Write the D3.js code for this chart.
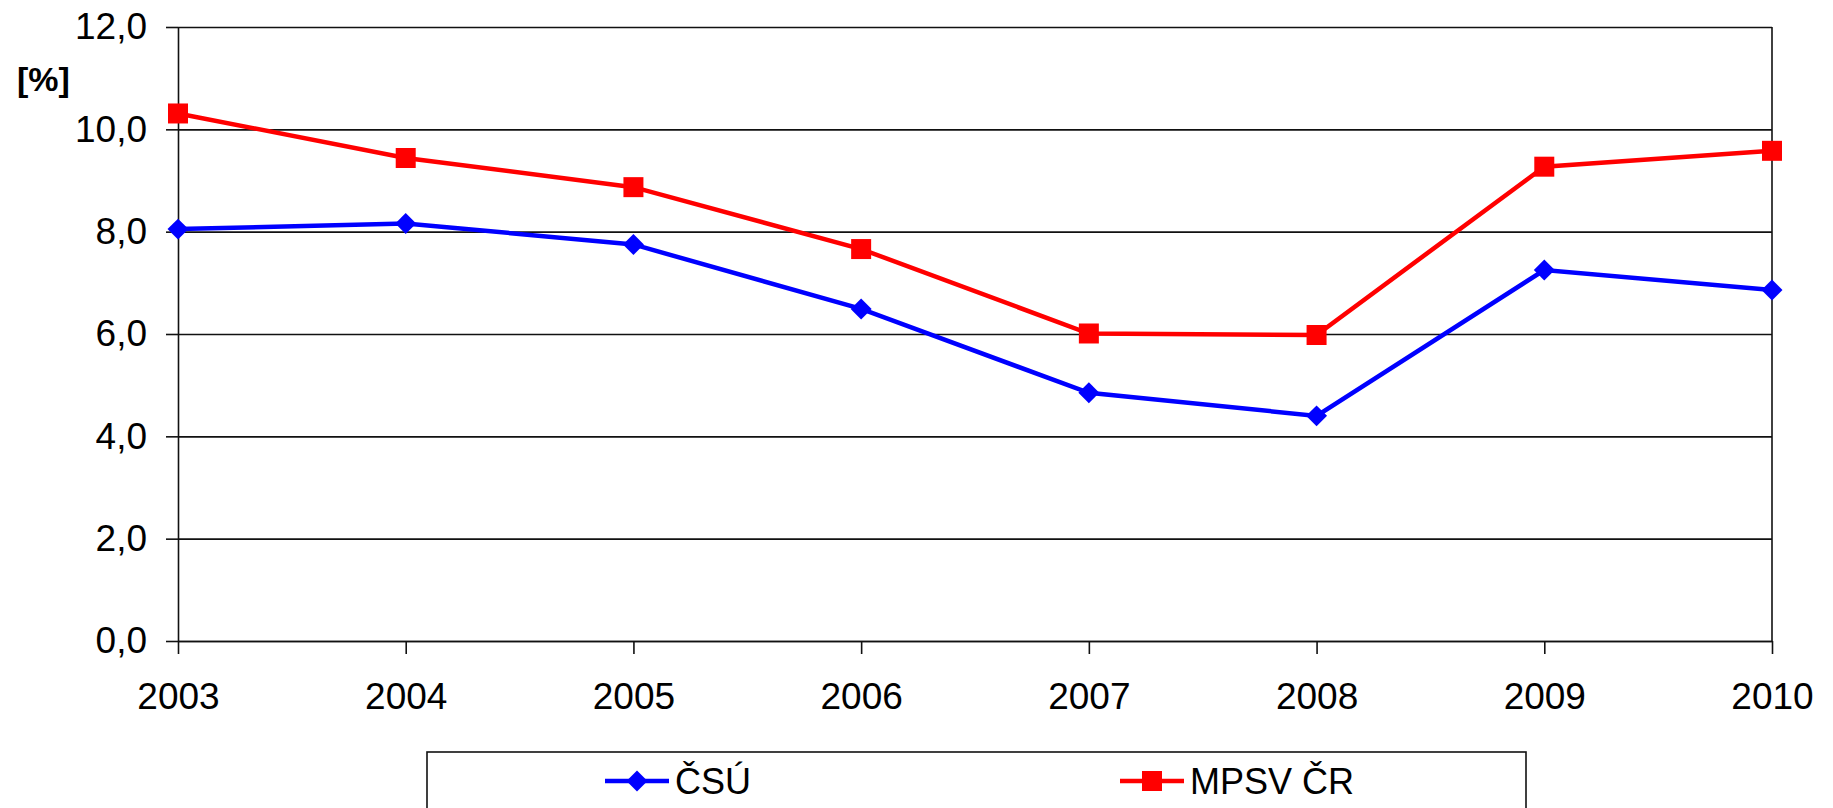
<!DOCTYPE html>
<html>
<head>
<meta charset="utf-8">
<script src="https://cdn.jsdelivr.net/npm/d3@7"></script>
<style>
  body { margin: 0; background: #fff; }
  svg { display: block; font-family: "Liberation Sans", Arial, sans-serif; }
</style>
</head>
<body>
<svg id="chart"></svg>
<script>
// data
var years = ["2003", "2004", "2005", "2006", "2007", "2008", "2009", "2010"];
var csu = [8.05, 8.16, 7.75, 6.49, 4.85, 4.40, 7.25, 6.86];
var mpsv = [10.31, 9.44, 8.87, 7.66, 6.01, 5.98, 9.27, 9.58];
var yTicks = [0, 2, 4, 6, 8, 10, 12];
var seriesNames = ["ČSÚ", "MPSV ČR"];

var W = 1833, H = 808;
var margin = {top: 27, right: 61, bottom: 167, left: 178},
    width = W - margin.left - margin.right,
    height = H - margin.top - margin.bottom;

var svg = d3.select("#chart")
    .attr("width", W)
    .attr("height", H);

var g = svg.append("g")
    .attr("transform", "translate(" + margin.left + "," + margin.top + ")");

var x = d3.scalePoint()
    .domain(years)
    .range([0, width])
    .padding(0);

var y = d3.scaleLinear()
    .domain([0, 12])
    .range([height, 0]);

var fmt = function(d) { return d3.format(".1f")(d).replace(".", ","); };

// gridlines
g.append("g")
    .attr("class", "grid")
    .call(d3.axisLeft(y).tickValues(yTicks).tickSize(-width).tickFormat(""))
    .call(function(s) {
      s.select(".domain").remove();
      s.selectAll("line").attr("stroke", "#111").attr("stroke-width", 1.6);
    });

// right border
g.append("line")
    .attr("x1", width).attr("x2", width)
    .attr("y1", 0).attr("y2", height)
    .attr("stroke", "#111").attr("stroke-width", 1.6);

// y axis
g.append("g")
    .call(d3.axisLeft(y).tickValues(yTicks).tickSize(12).tickSizeOuter(0).tickPadding(19).tickFormat(fmt))
    .call(function(s) {
      s.select(".domain").attr("stroke", "#111").attr("stroke-width", 1.6);
      s.selectAll(".tick line").attr("stroke", "#111").attr("stroke-width", 1.6);
      s.selectAll("text").attr("font-size", 37).attr("fill", "#000")
        .attr("font-family", "Liberation Sans, Arial, sans-serif");
    });

// x axis
g.append("g")
    .attr("transform", "translate(0," + height + ")")
    .call(d3.axisBottom(x).tickSize(13).tickSizeOuter(0).tickPadding(29))
    .call(function(s) {
      s.select(".domain").attr("stroke", "#111").attr("stroke-width", 1.6);
      s.selectAll(".tick line").attr("stroke", "#111").attr("stroke-width", 1.6);
      s.selectAll("text").attr("font-size", 37).attr("fill", "#000")
        .attr("font-family", "Liberation Sans, Arial, sans-serif");
    });

// unit label
svg.append("text")
    .attr("x", 17)
    .attr("y", 91)
    .attr("font-size", 34)
    .attr("font-weight", "bold")
    .text("[%]");

var line = d3.line()
    .x(function(d, i) { return x(years[i]); })
    .y(function(d) { return y(d); });

var diamond = d3.symbol().type(d3.symbolDiamond2).size(280);
var square = d3.symbol().type(d3.symbolSquare).size(400);

// ČSÚ series
g.append("path")
    .datum(csu)
    .attr("fill", "none")
    .attr("stroke", "#0000ff")
    .attr("stroke-width", 4.5)
    .attr("d", line);

g.selectAll(".csu")
    .data(csu)
    .enter().append("path")
    .attr("class", "csu")
    .attr("transform", function(d, i) { return "translate(" + x(years[i]) + "," + y(d) + ")"; })
    .attr("d", diamond)
    .attr("fill", "#0000ff");

// MPSV series
g.append("path")
    .datum(mpsv)
    .attr("fill", "none")
    .attr("stroke", "#ff0000")
    .attr("stroke-width", 4.5)
    .attr("d", line);

g.selectAll(".mpsv")
    .data(mpsv)
    .enter().append("path")
    .attr("class", "mpsv")
    .attr("transform", function(d, i) { return "translate(" + x(years[i]) + "," + y(d) + ")"; })
    .attr("d", square)
    .attr("fill", "#ff0000");

// legend
var legend = svg.append("g");
legend.append("rect")
    .attr("x", 427).attr("y", 752)
    .attr("width", 1099).attr("height", 100)
    .attr("fill", "#fff")
    .attr("stroke", "#111").attr("stroke-width", 1.6);

var legendItems = [
  {name: seriesNames[0], color: "#0000ff", sym: diamond, x: 605},
  {name: seriesNames[1], color: "#ff0000", sym: square, x: 1120}
];

var li = legend.selectAll(".li")
    .data(legendItems)
    .enter().append("g")
    .attr("transform", function(d) { return "translate(" + d.x + ",781)"; });

li.append("line")
    .attr("x1", 0).attr("x2", 64)
    .attr("stroke", function(d) { return d.color; })
    .attr("stroke-width", 4.5);

li.append("path")
    .attr("transform", "translate(32,0)")
    .attr("d", function(d) { return d.sym(); })
    .attr("fill", function(d) { return d.color; });

li.append("text")
    .attr("x", 70)
    .attr("dy", "0.35em")
    .attr("font-size", 36)
    .text(function(d) { return d.name; });
</script>
</body>
</html>
